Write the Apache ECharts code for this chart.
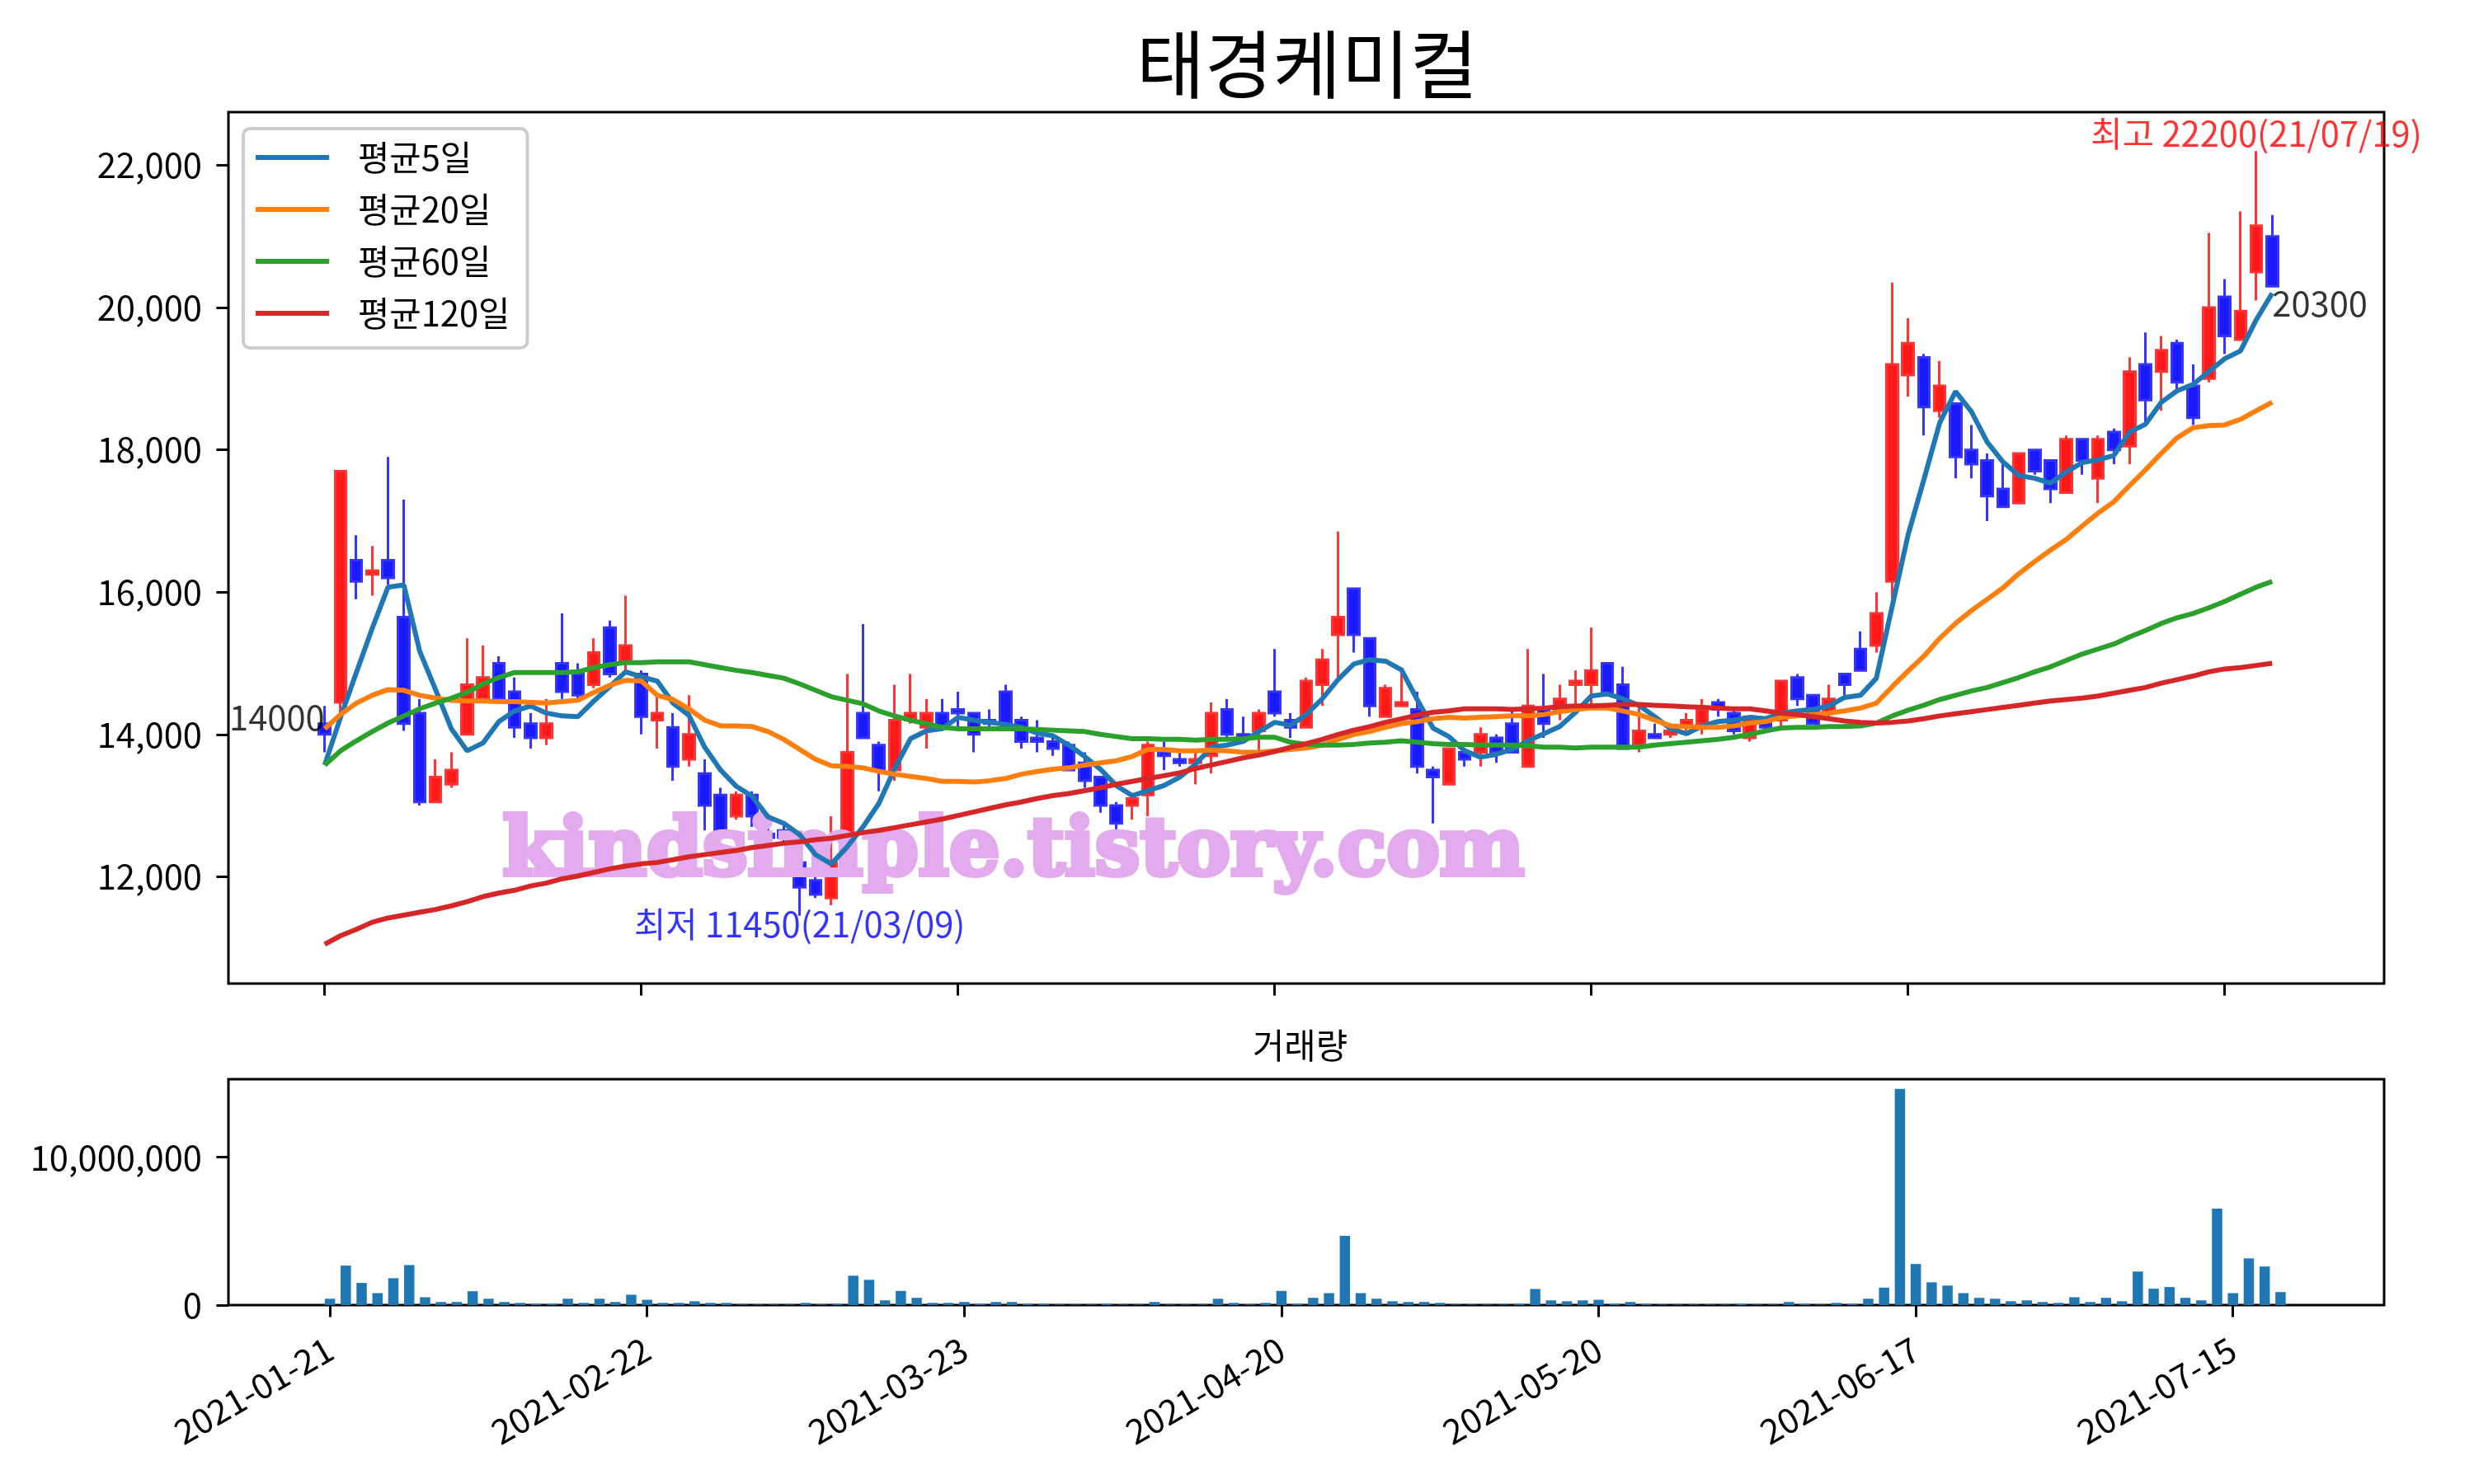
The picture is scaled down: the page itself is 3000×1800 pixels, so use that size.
<!DOCTYPE html>
<html><head><meta charset="utf-8">
<script src="https://cdn.jsdelivr.net/npm/echarts@6/dist/echarts.min.js"></script>
<style>html,body{margin:0;padding:0;background:#fff}#c{width:3000px;height:1800px}</style>
</head><body><div id="c"></div>
<script>
const dates = ['2021-01-21','2021-01-22','2021-01-25','2021-01-26','2021-01-27','2021-01-28','2021-01-29',
'2021-02-01','2021-02-02','2021-02-03','2021-02-04','2021-02-05','2021-02-08','2021-02-09','2021-02-10',
'2021-02-15','2021-02-16','2021-02-17','2021-02-18','2021-02-19','2021-02-22','2021-02-23','2021-02-24','2021-02-25','2021-02-26',
'2021-03-02','2021-03-03','2021-03-04','2021-03-05','2021-03-08','2021-03-09','2021-03-10','2021-03-11','2021-03-12',
'2021-03-15','2021-03-16','2021-03-17','2021-03-18','2021-03-19','2021-03-22','2021-03-23','2021-03-24','2021-03-25','2021-03-26',
'2021-03-29','2021-03-30','2021-03-31','2021-04-01','2021-04-02','2021-04-05','2021-04-06','2021-04-07','2021-04-08','2021-04-09',
'2021-04-12','2021-04-13','2021-04-14','2021-04-15','2021-04-16','2021-04-19','2021-04-20','2021-04-21','2021-04-22','2021-04-23',
'2021-04-26','2021-04-27','2021-04-28','2021-04-29','2021-04-30','2021-05-03','2021-05-04','2021-05-06','2021-05-07',
'2021-05-10','2021-05-11','2021-05-12','2021-05-13','2021-05-14','2021-05-17','2021-05-18','2021-05-20','2021-05-21',
'2021-05-24','2021-05-25','2021-05-26','2021-05-27','2021-05-28','2021-05-31','2021-06-01','2021-06-02','2021-06-03','2021-06-04',
'2021-06-07','2021-06-08','2021-06-09','2021-06-10','2021-06-11','2021-06-14','2021-06-15','2021-06-16','2021-06-17','2021-06-18',
'2021-06-21','2021-06-22','2021-06-23','2021-06-24','2021-06-25','2021-06-28','2021-06-29','2021-06-30','2021-07-01','2021-07-02',
'2021-07-05','2021-07-06','2021-07-07','2021-07-08','2021-07-09','2021-07-12','2021-07-13','2021-07-14','2021-07-15','2021-07-16',
'2021-07-19','2021-07-20'];

const opens = [14150,14450,16450,16250,16450,15650,14300,13050,13300,14000,
14500,15000,14600,14150,13950,15000,14850,14700,15500,15000,
14850,14200,14100,13650,13450,13150,12850,13150,12600,12650,
12200,11950,11700,12500,14300,13850,13500,14200,14100,14300,
14350,14300,14200,14600,14200,13950,13900,13850,13600,13400,
13000,13000,13150,13750,13650,13600,13700,14350,14000,14050,
14600,14200,14100,14700,15400,16050,15350,14250,14400,14350,
13500,13300,13750,13750,13950,14150,13550,14350,14350,14700,
14700,15000,14700,13850,14000,14000,14100,14150,14450,14300,
13950,14200,14200,14800,14550,14300,14850,15200,15250,16150,
19050,19300,18550,18650,18000,17850,17450,17250,18000,17850,
17400,18150,17600,18250,18050,19200,19100,19500,18900,19000,
20150,19550,20500,21000];

const highs = [14400,17700,16800,16650,17900,17300,14500,13650,13750,15350,
15250,15100,14800,14300,14500,15700,15000,15350,15600,15950,
14900,14550,14300,14550,13650,13250,13200,13200,12750,12750,
12300,12000,12850,14850,15550,13900,14700,14850,14500,14500,
14600,14300,14350,14700,14250,14200,13950,13900,13750,13400,
13050,13150,13900,13900,13750,13750,14450,14500,14250,14350,
15200,14300,14800,15200,16850,16050,15350,14700,14850,14600,
13550,13800,13800,14100,14000,14350,15200,14850,14700,14900,
15500,15000,14950,14400,14150,14100,14300,14500,14500,14350,
14250,14200,14750,14850,14550,14700,14850,15450,16000,20350,
19850,19350,19250,18650,18350,17950,17800,17950,18000,17850,
18200,18150,18200,18300,19300,19650,19600,19550,19200,21050,
20400,21350,22200,21300];

const lows = [13750,14150,15900,15950,16100,14050,13000,13050,13250,14000,
14450,14450,13950,13800,13850,14500,14500,14650,14800,14850,
14000,13800,13350,13550,12650,12550,12800,12700,12500,12450,
11450,11700,11600,12500,13950,13200,13350,14150,13800,14050,
14100,13750,14100,14100,13800,13750,13700,13500,13250,12900,
12650,12800,12850,13500,13550,13300,13450,13950,13950,13750,
14250,13950,14100,14400,14750,15150,14250,14250,14400,13450,
12750,13300,13550,13550,13600,13750,13550,13950,14200,14400,
14400,14550,13800,13750,13950,13950,14050,14000,14250,14000,
13900,14050,14100,14400,14150,14250,14550,14900,15150,15900,
18750,18200,18450,17600,17600,17000,17200,17250,17650,17250,
17400,17650,17250,17800,17800,18400,18550,18850,18350,18950,
19350,19550,20100,20300];

const closes = [14000,17700,16150,16300,16200,14150,13050,13400,13500,14700,
14800,14500,14100,13950,14150,14600,14550,15150,14850,15250,
14250,14300,13550,14000,13000,12650,13150,12850,12550,12550,
11850,11750,12200,13750,13950,13500,14200,14300,14300,14100,
14300,14000,14150,14150,13900,13900,13800,13500,13350,13000,
12750,13100,13850,13700,13600,13650,14300,14000,13950,14300,
14300,14100,14750,15050,15650,15400,14400,14650,14450,13550,
13400,13800,13650,14000,13750,13750,14400,14150,14500,14750,
14900,14550,13800,14050,13950,14050,14200,14350,14350,14050,
14250,14100,14750,14500,14150,14500,14700,14900,15700,19200,
19500,18600,18900,17900,17800,17350,17200,17950,17700,17450,
18150,17850,18150,18000,19100,18700,19400,18950,18450,20000,
19600,19950,21150,20300];

const volumes = [430000,2670000,1500000,810000,1820000,2710000,530000,210000,210000,940000,
430000,210000,150000,85000,85000,430000,150000,430000,210000,700000,
360000,150000,150000,260000,150000,150000,30000,30000,30000,30000,
150000,40000,85000,1990000,1710000,320000,960000,490000,150000,150000,
210000,85000,210000,210000,85000,85000,30000,30000,30000,85000,
30000,30000,210000,30000,30000,30000,430000,150000,40000,150000,
960000,85000,490000,810000,4680000,810000,430000,260000,210000,210000,
150000,30000,30000,30000,30000,85000,1090000,320000,260000,320000,
360000,85000,210000,85000,30000,30000,30000,30000,30000,85000,
30000,30000,210000,85000,30000,150000,85000,430000,1180000,14620000,
2780000,1540000,1320000,810000,490000,430000,260000,320000,210000,150000,
530000,210000,490000,260000,2270000,1110000,1220000,490000,320000,6520000,
810000,3160000,2610000,880000];

const ma5 = [13570,14240,14870,15490,16070,16100,15170,14630,14080,13770,
13880,14180,14330,14400,14300,14260,14250,14470,14670,14880,
14810,14750,14440,14270,13820,13500,13270,13130,12840,12750,
12590,12310,12180,12420,12700,13030,13520,13940,14050,14080,
14240,14200,14170,14140,14100,14020,13980,13850,13690,13510,
13280,13140,13210,13280,13400,13580,13820,13850,13900,14040,
14170,14130,14280,14500,14770,14990,15050,15030,14910,14490,
14090,13970,13770,13680,13720,13790,13910,14010,14110,14310,
14540,14570,14500,14410,14250,14080,14010,14120,14180,14200,
14240,14220,14300,14330,14350,14400,14520,14550,14790,15800,
16800,17580,18380,18820,18540,18110,17830,17640,17600,17530,
17690,17820,17860,17920,18250,18360,18670,18830,18920,19100,
19280,19390,19830,20200];

const ma20 = [14080,14280,14440,14550,14630,14620,14550,14510,14480,14470,
14470,14460,14460,14450,14440,14460,14480,14590,14690,14760,
14750,14550,14490,14360,14200,14120,14120,14110,14040,13930,
13790,13650,13560,13550,13530,13480,13440,13410,13380,13340,
13340,13330,13350,13380,13440,13480,13510,13530,13570,13600,
13630,13690,13790,13790,13770,13770,13780,13770,13750,13750,
13770,13790,13810,13850,13930,14000,14040,14100,14150,14180,
14220,14240,14230,14240,14250,14260,14260,14280,14320,14350,
14370,14370,14330,14280,14200,14120,14110,14100,14100,14120,
14160,14180,14240,14260,14280,14300,14330,14370,14440,14670,
14890,15100,15350,15560,15740,15900,16060,16260,16430,16590,
16740,16930,17110,17270,17500,17720,17950,18170,18310,18340,
18350,18430,18550,18670];

const ma60 = [13570,13770,13910,14040,14160,14260,14360,14440,14510,14590,
14710,14800,14870,14870,14870,14870,14880,14940,14980,15010,
15010,15020,15020,15020,14980,14940,14900,14870,14830,14790,
14710,14620,14530,14480,14430,14330,14260,14200,14150,14100,
14080,14080,14080,14080,14080,14070,14060,14050,14040,14000,
13970,13940,13940,13930,13930,13920,13930,13930,13940,13960,
13960,13890,13860,13850,13850,13860,13880,13890,13910,13890,
13870,13860,13860,13850,13850,13850,13840,13820,13820,13810,
13820,13820,13820,13820,13850,13870,13890,13910,13930,13960,
14000,14050,14090,14100,14100,14110,14110,14120,14160,14260,
14340,14410,14490,14550,14610,14660,14730,14800,14880,14950,
15040,15130,15200,15270,15370,15460,15560,15640,15700,15780,
15870,15970,16070,16150];

const ma120 = [11050,11170,11260,11360,11420,11460,11500,11540,11590,11650,
11720,11770,11810,11870,11910,11970,12010,12060,12110,12150,
12180,12200,12240,12280,12310,12340,12370,12410,12440,12470,
12490,12520,12540,12580,12620,12650,12690,12730,12770,12810,
12860,12910,12960,13010,13050,13100,13140,13170,13210,13250,
13300,13340,13380,13420,13460,13520,13570,13620,13670,13710,
13760,13820,13870,13930,14000,14060,14110,14170,14220,14270,
14310,14330,14360,14360,14360,14350,14360,14370,14390,14400,
14400,14410,14420,14420,14410,14400,14390,14380,14370,14360,
14360,14330,14300,14280,14250,14220,14190,14170,14160,14170,
14190,14220,14260,14290,14320,14350,14380,14410,14440,14470,
14490,14510,14540,14580,14620,14660,14720,14770,14820,14880,
14920,14940,14970,15000];

const xTicks = [0,20,40,60,80,100,120];
const yTicks = [12000,14000,16000,18000,20000,22000];
const volTicks = [0,10000000];
const seriesNames = ['평균5일','평균20일','평균60일','평균120일'];
const seriesColors = ['#1f77b4','#ff7f0e','#2ca02c','#d62728'];

const FONT = "'Noto Sans CJK KR','Noto Sans',sans-serif";
const fmt = v => Math.round(v).toLocaleString('en-US');
const shortDate = d => d.slice(2).replace(/-/g,'/');

const chart = echarts.init(document.getElementById('c'), null, {renderer:'canvas', width:3000, height:1800});

const candleData = dates.map((d,i)=>[i, opens[i], closes[i], lows[i], highs[i]]);
const toXY = arr => arr.map((v,i)=>[i,v]);

const hiIdx = highs.indexOf(Math.max(...highs));
const loIdx = lows.indexOf(Math.min(...lows));
const last = closes.length - 1;

const tickStyle = {show:true, length:14.6, lineStyle:{color:'#000', width:3}};
const noLine = {show:false, onZero:false};
const lblBase = {fontSize:41.7, lineHeight:42, fontFamily:FONT};

const option = {
  animation:false,
  backgroundColor:'#ffffff',
  textStyle:{fontFamily:FONT},
  title:[
    {text:'태경케미컬', left:1378, top:33, padding:0,
     textStyle:{fontSize:90, lineHeight:90, fontWeight:'normal', color:'#000', fontFamily:FONT}},
    {text:'거래량', left:1519, top:1247, padding:0,
     textStyle:{fontSize:41.7, lineHeight:42, fontWeight:'normal', color:'#000', fontFamily:FONT}}
  ],
  legend:{
    orient:'vertical', left:295, top:156, data:seriesNames, icon:'rect',
    itemWidth:89, itemHeight:6, itemGap:21, padding:[14,21,21,15],
    borderColor:'#cccccc', borderWidth:4, borderRadius:8,
    backgroundColor:'rgba(255,255,255,0.8)', selectedMode:false, z:20,
    textStyle:{fontSize:41.7, lineHeight:42, color:'#000', fontFamily:FONT, padding:[0,0,0,30]}
  },
  grid:[
    {left:277, top:136, width:2614, height:1057, show:true, borderColor:'#000', borderWidth:3, backgroundColor:'rgba(0,0,0,0)', outerBoundsMode:'none'},
    {left:277, top:1309, width:2614, height:274, show:true, borderColor:'#000', borderWidth:3, backgroundColor:'rgba(0,0,0,0)', outerBoundsMode:'none'}
  ],
  xAxis:[
    {type:'value', gridIndex:0, min:-6.08, max:130.07, axisLine:noLine, splitLine:{show:false},
     axisTick:Object.assign({customValues:xTicks}, tickStyle), axisLabel:{show:false}},
    {type:'value', gridIndex:1, min:-6.40, max:129.53, axisLine:noLine, splitLine:{show:false},
     axisTick:Object.assign({customValues:xTicks}, tickStyle),
     axisLabel:Object.assign({show:true, customValues:xTicks, formatter:v=>dates[Math.round(v)], rotate:30, margin:50, color:'#000'}, lblBase)}
  ],
  yAxis:[
    {type:'value', gridIndex:0, min:10498, max:22747, axisLine:noLine, splitLine:{show:false},
     axisTick:Object.assign({customValues:yTicks}, tickStyle),
     axisLabel:Object.assign({show:true, customValues:yTicks, formatter:fmt, margin:32, color:'#000'}, lblBase)},
    {type:'value', gridIndex:1, min:0, max:15280000, axisLine:noLine, splitLine:{show:false},
     axisTick:Object.assign({customValues:volTicks}, tickStyle),
     axisLabel:Object.assign({show:true, customValues:volTicks, formatter:fmt, margin:32, color:'#000'}, lblBase)}
  ],
  graphic:{
    elements:[
      {type:'text', z:10, zlevel:0, silent:true,
       style:{text:'kindsimple.tistory.com', x:1229, y:1036, align:'center', verticalAlign:'middle',
              fill:'#e3aaee', stroke:'#e3aaee', lineWidth:6, font:'bold 97px "DejaVu Serif"'}}
    ]
  },
  series:[
    {type:'candlestick', xAxisIndex:0, yAxisIndex:0, z:1, barWidth:14, data:candleData,
     itemStyle:{color:'#ff1a1a', color0:'#1a1aff', borderColor:'#ff3535', borderColor0:'#3535ff', borderWidth:3}},
    ...[ma5, ma20, ma60, ma120].map((arr,k)=>({
      type:'line', name:seriesNames[k], xAxisIndex:0, yAxisIndex:0, z:20, data:toXY(arr),
      symbol:'none', showSymbol:false, color:seriesColors[k],
      lineStyle:{color:seriesColors[k], width:6}
    })),
    {type:'bar', xAxisIndex:1, yAxisIndex:1, barWidth:12.5, data:toXY(volumes),
     itemStyle:{color:'#1f77b4'}},
    {type:'scatter', xAxisIndex:0, yAxisIndex:0, z:30, symbolSize:1, silent:true,
     itemStyle:{color:'rgba(0,0,0,0)'},
     data:[
       {value:[0, closes[0]], label:Object.assign({show:true, position:'inside', formatter:String(closes[0]), align:'right', verticalAlign:'bottom', color:'#000'}, lblBase)},
       {value:[last, closes[last]], label:Object.assign({show:true, position:'inside', formatter:String(closes[last]), align:'left', verticalAlign:'top', color:'#000'}, lblBase)},
       {value:[hiIdx, highs[hiIdx]], label:Object.assign({show:true, position:'inside', formatter:'최고 '+highs[hiIdx]+'('+shortDate(dates[hiIdx])+')', align:'center', verticalAlign:'bottom', color:'#ff0000'}, lblBase)},
       {value:[loIdx, lows[loIdx]], label:Object.assign({show:true, position:'inside', offset:[0,-11], formatter:'최저 '+lows[loIdx]+'('+shortDate(dates[loIdx])+')', align:'center', verticalAlign:'top', color:'#0000ff'}, lblBase)}
     ]}
  ]
};
chart.setOption(option);
</script>
</body></html>
